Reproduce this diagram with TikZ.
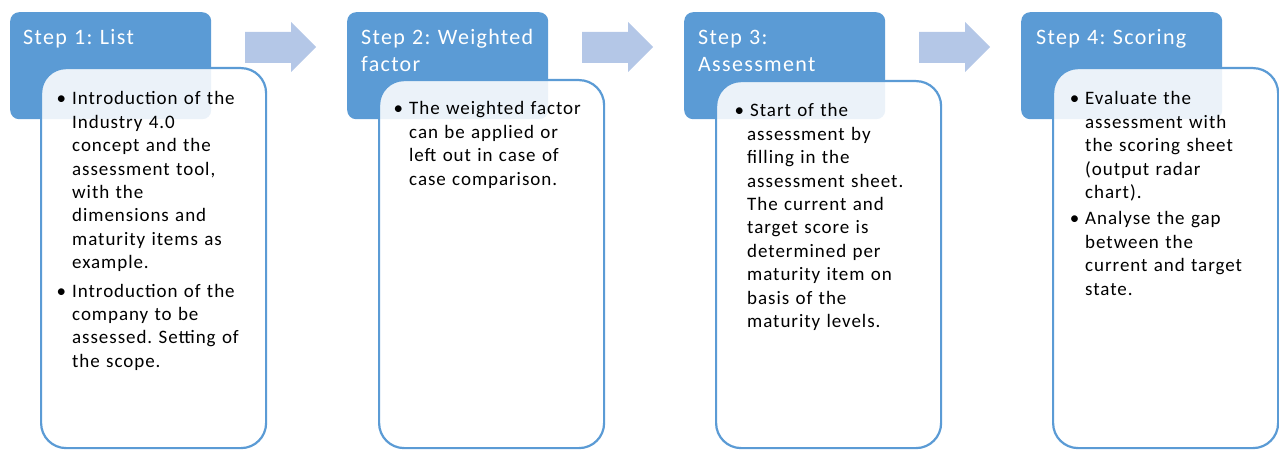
\documentclass[tikz,border=0pt]{standalone}
\usepackage{fontspec}
\newfontfamily\hdrfont{Carlito}[LetterSpace=6,WordSpace=0.7]
\newfontfamily\bodyfont{Carlito}[LetterSpace=5,WordSpace=0.6]
\definecolor{hblue}{HTML}{5B9BD5}
\definecolor{ablue}{HTML}{B4C7E7}
\newcommand{\bul}[1]{\leavevmode\llap{•\hspace{#1}}}
\frenchspacing
\begin{document}
\begin{tikzpicture}[x=1pt,y=-1pt,
  hdrbox/.style={fill=hblue, rounded corners=9pt, inner sep=0pt, anchor=north west,
                 minimum width=201pt, minimum height=107pt},
  bodybox/.style={draw=hblue, line width=2.2pt, fill=white, fill opacity=0.88,
                  rounded corners=25pt, inner sep=0pt, anchor=north west, minimum width=225pt},
  htext/.style={text=white, font=\hdrfont\fontsize{22}{27}\selectfont, align=left,
                text width=195pt, inner sep=0pt, anchor=base west},
  btext/.style={text=black, font=\bodyfont\fontsize{19}{23.4}\selectfont, align=left,
                text width=200pt, inner sep=0pt, anchor=base west},
  blockarrow/.style={fill=ablue}
]
\useasboundingbox (0,0) rectangle (1279,454);

% arrows
\foreach \x in {245,582,919}{
  \fill[blockarrow] (\x,32) -- (\x+46,32) -- (\x+46,22) -- (\x+71,47) -- (\x+46,72) -- (\x+46,63) -- (\x,63) -- cycle;
}

% headers
\node[hdrbox] (h1) at (10,12) {};
\node[hdrbox] (h2) at (347,12) {};
\node[hdrbox] (h3) at (684,12) {};
\node[hdrbox] (h4) at (1021,12) {};

\node[htext] (t1) at (23,45) {Step 1: List};
\node[htext] (t2) at (361,45) {Step 2: Weighted\\factor};
\node[htext] (t3) at (698,45) {Step 3:\\Assessment};
\node[htext] (t4) at (1036,45) {Step 4: Scoring};

% body boxes
\node[bodybox, minimum height=380pt] (b1) at (40,67) {};
\node[bodybox, minimum height=368pt] (b2) at (378,79) {};
\node[bodybox, minimum height=367pt] (b3) at (715,80) {};
\node[bodybox, minimum height=380pt] (b4) at (1052,67) {};

\node[btext] (p1) at (72,105) {\bul{6pt}Introduction of the\\ Industry 4.0\\ concept and the\\ assessment tool,\\ with the\\ dimensions and\\ maturity items as\\ example.\\[5pt]\bul{6pt}Introduction of the\\ company to be\\ assessed. Setting of\\ the scope.};

\node[btext] (p2) at (409,115) {\bul{6pt}The weighted factor\\ can be applied or\\ left out in case of\\ case comparison.};

\node[btext] (p3) at (747,117) {\bul{3pt}\hspace{3pt}Start of the\\ assessment by\\ filling in the\\ assessment sheet.\\ The current and\\ target score is\\ determined per\\ maturity item on\\ basis of the\\ maturity levels.};

\node[btext] (p4) at (1085,105) {\bul{6pt}Evaluate the\\ assessment with\\ the scoring sheet\\ (output radar\\ chart).\\[3pt]\bul{6pt}Analyse the gap\\ between the\\ current and target\\ state.};
\end{tikzpicture}
\end{document}
